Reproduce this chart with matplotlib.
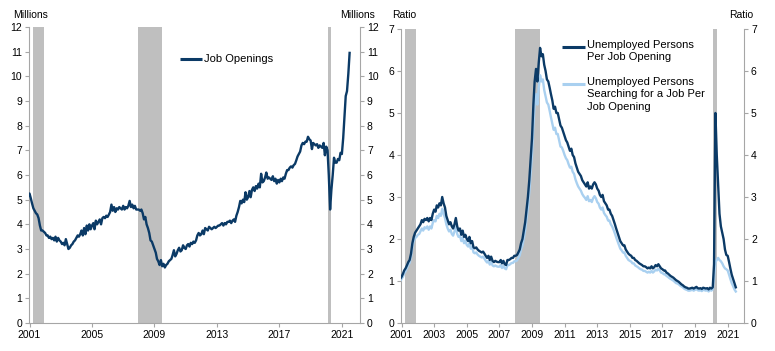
import numpy as np
import pandas as pd
import matplotlib
matplotlib.use("Agg")
import matplotlib.pyplot as plt
import matplotlib.dates as mdates

plt.rcParams['font.family'] = ['Liberation Sans', 'DejaVu Sans']

# monthly, Dec 2000 - Jul 2021
dates = pd.date_range("2000-12-01", "2021-07-01", freq="MS")

# job openings, millions
job_openings = [
    5.15,
    5.25, 5.05, 4.85, 4.65, 4.55, 4.45, 4.4, 4.25, 3.95, 3.75, 3.75, 3.7,
    3.65, 3.55, 3.55, 3.45, 3.5, 3.4, 3.45, 3.35, 3.5, 3.3, 3.45, 3.35,
    3.3, 3.2, 3.25, 3.15, 3.4, 3.2, 3.0, 3.05, 3.15, 3.2, 3.3, 3.35,
    3.45, 3.55, 3.5, 3.6, 3.75, 3.55, 3.85, 3.6, 3.95, 3.75, 4.0, 3.8,
    3.95, 4.05, 3.8, 4.15, 4.0, 4.1, 4.2, 4.0, 4.25, 4.3, 4.25, 4.35,
    4.3, 4.4, 4.5, 4.8, 4.55, 4.7, 4.5, 4.65, 4.6, 4.7, 4.65, 4.6,
    4.75, 4.6, 4.7, 4.65, 4.75, 4.95, 4.7, 4.8, 4.65, 4.75, 4.6, 4.6,
    4.6, 4.55, 4.6, 4.45, 4.2, 4.3, 4.0, 3.85, 3.65, 3.35, 3.3, 3.15,
    3.0, 2.85, 2.6, 2.5, 2.35, 2.55, 2.3, 2.4, 2.25, 2.35, 2.4, 2.5,
    2.55, 2.6, 2.75, 2.95, 2.7, 2.8, 2.95, 3.05, 2.9, 2.95, 3.15, 3.05,
    3.0, 3.15, 3.2, 3.1, 3.25, 3.2, 3.3, 3.25, 3.35, 3.55, 3.65, 3.55,
    3.6, 3.75, 3.6, 3.85, 3.8, 3.75, 3.9, 3.85, 3.8, 3.85, 3.9, 3.85,
    3.9, 3.95, 3.95, 4.0, 4.05, 3.95, 4.05, 4.0, 4.1, 4.1, 4.15, 4.05,
    4.15, 4.2, 4.1, 4.35, 4.5, 4.7, 4.95, 4.85, 5.0, 4.9, 5.3, 5.0,
    5.1, 5.35, 5.1, 5.4, 5.5, 5.35, 5.55, 5.45, 5.65, 5.5, 6.05, 5.7,
    5.75, 5.9, 6.1, 5.85, 5.9, 5.85, 5.8, 5.95, 5.75, 5.85, 5.65, 5.8,
    5.7, 5.85, 5.75, 5.9, 5.85, 6.05, 6.2, 6.2, 6.3, 6.35, 6.3, 6.4,
    6.45, 6.6, 6.75, 6.85, 6.95, 7.2, 7.3, 7.25, 7.35, 7.35, 7.55, 7.45,
    7.4, 7.05, 7.3, 7.25, 7.2, 7.25, 7.1, 7.2, 7.15, 7.1, 7.3, 6.8,
    7.15, 7.0, 6.0, 4.6, 5.4, 6.0, 6.7, 6.5, 6.5, 6.65, 6.6, 6.9,
    6.85, 7.5, 8.3, 9.2, 9.4, 10.1, 10.95,
]

# unemployed persons per job opening
unemp_per_opening = [
    1.05,
    1.1, 1.17, 1.25, 1.3, 1.37, 1.45, 1.5, 1.65, 1.9, 2.05, 2.15, 2.2,
    2.25, 2.3, 2.35, 2.45, 2.4, 2.48, 2.45, 2.5, 2.42, 2.5, 2.45, 2.6,
    2.7, 2.65, 2.8, 2.75, 2.85, 2.8, 3.0, 2.85, 2.75, 2.55, 2.45, 2.35,
    2.4, 2.3, 2.25, 2.35, 2.5, 2.3, 2.2, 2.25, 2.1, 2.2, 2.05, 2.1,
    2.0, 1.95, 2.05, 1.9, 1.95, 1.8, 1.78, 1.8, 1.75, 1.72, 1.7, 1.68,
    1.7, 1.65, 1.6, 1.55, 1.6, 1.5, 1.58, 1.48, 1.45, 1.48, 1.46, 1.45,
    1.45, 1.5, 1.42, 1.48, 1.4, 1.38, 1.5, 1.5, 1.52, 1.55, 1.55, 1.6,
    1.6, 1.62, 1.68, 1.75, 1.9, 2.0, 2.2, 2.4, 2.7, 3.0, 3.4, 3.9,
    4.4, 5.2, 5.75, 6.05, 5.75, 6.2, 6.55, 6.35, 6.4, 6.15, 6.0, 5.8,
    5.75, 5.6, 5.45, 5.3, 5.1, 5.15, 5.0, 5.0, 4.85, 4.7, 4.65, 4.55,
    4.45, 4.35, 4.3, 4.2, 4.1, 4.15, 4.0, 3.95, 3.8, 3.7, 3.6, 3.55,
    3.5, 3.4, 3.35, 3.3, 3.25, 3.35, 3.2, 3.25, 3.2, 3.3, 3.35, 3.3,
    3.2, 3.15, 3.05, 3.0, 3.05, 2.9, 2.85, 2.8, 2.7, 2.7, 2.6, 2.55,
    2.45, 2.35, 2.25, 2.15, 2.05, 1.95, 1.9, 1.85, 1.85, 1.75, 1.7, 1.65,
    1.62, 1.6, 1.55, 1.55, 1.5, 1.48, 1.45, 1.42, 1.4, 1.38, 1.35, 1.35,
    1.33, 1.3, 1.32, 1.3, 1.35, 1.3, 1.33, 1.38, 1.35, 1.4, 1.35, 1.3,
    1.28, 1.25, 1.25, 1.2, 1.18, 1.15, 1.12, 1.1, 1.08, 1.05, 1.02, 1.0,
    0.98, 0.95, 0.92, 0.9, 0.87, 0.85, 0.84, 0.82, 0.82, 0.83, 0.84, 0.82,
    0.84, 0.86, 0.83, 0.82, 0.83, 0.81, 0.84, 0.83, 0.82, 0.83, 0.8, 0.84,
    0.82, 0.85, 1.4, 5.0, 4.0, 3.3, 2.6, 2.3, 2.15, 2.0, 1.75, 1.62,
    1.6, 1.45, 1.3, 1.15, 1.05, 0.95, 0.85,
]

# unemployed persons searching for a job per job opening
searching_per_opening = [
    1.0,
    1.05, 1.1, 1.18, 1.23, 1.3, 1.38, 1.43, 1.57, 1.8, 1.95, 2.02, 2.05,
    2.1, 2.12, 2.18, 2.25, 2.2, 2.28, 2.25, 2.3, 2.22, 2.3, 2.25, 2.38,
    2.45, 2.42, 2.55, 2.5, 2.6, 2.55, 2.72, 2.6, 2.5, 2.35, 2.25, 2.18,
    2.22, 2.12, 2.08, 2.18, 2.3, 2.12, 2.05, 2.08, 1.95, 2.03, 1.9, 1.95,
    1.86, 1.82, 1.9, 1.77, 1.82, 1.68, 1.66, 1.68, 1.63, 1.6, 1.58, 1.56,
    1.58, 1.53, 1.48, 1.44, 1.48, 1.39, 1.46, 1.37, 1.35, 1.37, 1.35, 1.34,
    1.34, 1.38, 1.31, 1.36, 1.3, 1.28, 1.38, 1.38, 1.4, 1.43, 1.43, 1.47,
    1.47, 1.49, 1.55, 1.61, 1.75, 1.84, 2.02, 2.2, 2.48, 2.75, 3.1, 3.55,
    4.0, 4.7, 5.2, 5.45, 5.2, 5.6, 5.9, 5.75, 5.8, 5.55, 5.4, 5.25,
    5.2, 5.05, 4.9, 4.75, 4.6, 4.65, 4.5, 4.5, 4.35, 4.2, 4.18, 4.1,
    4.0, 3.92, 3.88, 3.78, 3.7, 3.72, 3.6, 3.55, 3.42, 3.33, 3.25, 3.2,
    3.15, 3.07, 3.02, 2.98, 2.93, 3.02, 2.9, 2.93, 2.88, 2.97, 3.02, 2.97,
    2.88, 2.84, 2.75, 2.7, 2.75, 2.62, 2.57, 2.53, 2.44, 2.44, 2.35, 2.3,
    2.22, 2.13, 2.04, 1.95, 1.86, 1.77, 1.73, 1.68, 1.68, 1.6, 1.55, 1.5,
    1.48, 1.46, 1.42, 1.42, 1.37, 1.35, 1.33, 1.3, 1.28, 1.27, 1.24, 1.24,
    1.22, 1.2, 1.22, 1.2, 1.24, 1.2, 1.23, 1.27, 1.25, 1.29, 1.25, 1.2,
    1.19, 1.16, 1.16, 1.12, 1.1, 1.07, 1.05, 1.03, 1.01, 0.98, 0.95, 0.94,
    0.92, 0.89, 0.87, 0.85, 0.82, 0.8, 0.79, 0.77, 0.77, 0.78, 0.79, 0.77,
    0.79, 0.81, 0.78, 0.77, 0.78, 0.76, 0.79, 0.78, 0.77, 0.78, 0.75, 0.79,
    0.77, 0.8, 1.05, 1.45, 1.5, 1.55, 1.5, 1.47, 1.42, 1.35, 1.3, 1.28,
    1.25, 1.15, 1.05, 0.95, 0.88, 0.8, 0.75,
]

recessions = [("2001-03-15", "2001-11-25"), ("2007-12-15", "2009-07-01"),
              ("2020-02-01", "2020-05-01")]

dark = "#0b3a66"
light = "#a9d0f0"
shade = "#bfbfbf"
spine = "#a6a6a6"
fs = 7.5      # tick labels / units
lfs = 8       # legend text


def style_axes(ax, ylim, yticks, xlim, xticks):
    ax.set_ylim(*ylim)
    ax.set_yticks(yticks)
    ax.set_xlim(*xlim)
    ax.set_xticks(xticks)
    ax.xaxis.set_major_formatter(mdates.DateFormatter("%Y"))
    for s in ["top", "right"]:
        ax.spines[s].set_visible(False)
    for s in ["left", "bottom"]:
        ax.spines[s].set_color(spine)
    ax.tick_params(axis="both", colors=spine, labelcolor="black",
                   labelsize=fs, length=3, width=0.8, pad=2)
    # twin axis for the right-hand scale
    ax2 = ax.twinx()
    ax2.set_ylim(*ylim)
    ax2.set_yticks(yticks)
    for s in ["top", "left", "bottom"]:
        ax2.spines[s].set_visible(False)
    ax2.spines["right"].set_color(spine)
    ax2.tick_params(axis="y", colors=spine, labelcolor="black",
                    labelsize=fs, length=3, width=0.8, pad=2)
    for a, b in recessions:
        ax.axvspan(pd.Timestamp(a), pd.Timestamp(b), color=shade, lw=0, zorder=0)


fig = plt.figure(figsize=(7.75, 3.51), dpi=100)

# left chart: job openings
ax1 = fig.add_axes([29 / 775, 28 / 351, 331 / 775, 296 / 351])
yr4 = [pd.Timestamp(f"{y}-01-01") for y in range(2001, 2022, 4)]
style_axes(ax1, (0, 12), range(0, 13),
           (pd.Timestamp("2000-12-20"), pd.Timestamp("2022-03-01")), yr4)
ax1.plot(dates, job_openings, color=dark, lw=1.7, zorder=3)
ax1.plot([0.457, 0.522], [0.893, 0.893], transform=ax1.transAxes,
         color=dark, lw=2.2, solid_capstyle="butt")
ax1.text(0.529, 0.893, "Job Openings", transform=ax1.transAxes,
         fontsize=lfs, va="center", ha="left")

# right chart: ratios
ax3 = fig.add_axes([401 / 775, 28 / 351, 343 / 775, 294 / 351])
yr2 = [pd.Timestamp(f"{y}-01-01") for y in range(2001, 2022, 2)]
style_axes(ax3, (0, 7), range(0, 8),
           (pd.Timestamp("2000-12-20"), pd.Timestamp("2022-01-01")), yr2)
ax3.plot(dates, searching_per_opening, color=light, lw=1.7, zorder=3)
ax3.plot(dates, unemp_per_opening, color=dark, lw=1.7, zorder=4)

ax3.plot([0.469, 0.535], [0.938, 0.938], transform=ax3.transAxes,
         color=dark, lw=2.2, solid_capstyle="butt")
ax3.text(0.543, 0.963, "Unemployed Persons\nPer Job Opening",
         transform=ax3.transAxes, fontsize=lfs, va="top", ha="left",
         linespacing=1.3)
ax3.plot([0.469, 0.535], [0.812, 0.812], transform=ax3.transAxes,
         color=light, lw=2.2, solid_capstyle="butt")
ax3.text(0.543, 0.837, "Unemployed Persons\nSearching for a Job Per\nJob Opening",
         transform=ax3.transAxes, fontsize=lfs, va="top", ha="left",
         linespacing=1.3)

# unit labels
fig.text(13 / 775, 1 - 15 / 351, "Millions", fontsize=fs, ha="left", va="center")
fig.text(375 / 775, 1 - 15 / 351, "Millions", fontsize=fs, ha="right", va="center")
fig.text(392 / 775, 1 - 15 / 351, "Ratio", fontsize=fs, ha="left", va="center")
fig.text(753 / 775, 1 - 15 / 351, "Ratio", fontsize=fs, ha="right", va="center")

fig.savefig("out.png", dpi=100)
